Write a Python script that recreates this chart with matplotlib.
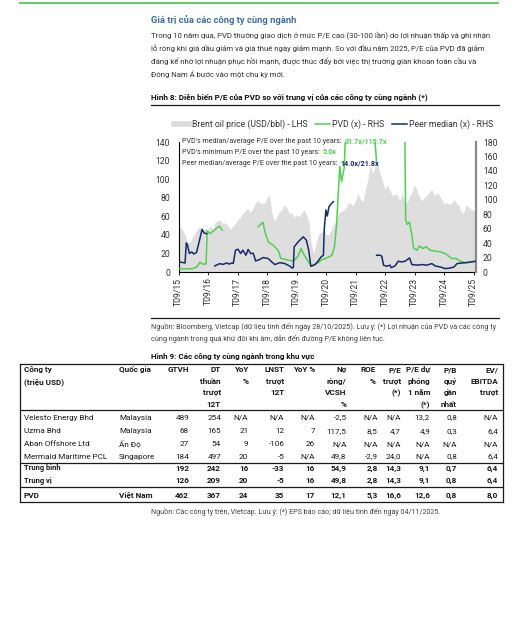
import matplotlib
matplotlib.use('Agg')
import matplotlib.pyplot as plt
from matplotlib.lines import Line2D
from matplotlib import font_manager
import numpy as np
import pandas as pd

# Brent monthly (USD/bbl), Sep 2015 -> Oct 2025
brent_vals = [48, 48, 44, 37,
              31, 33, 39, 43, 48, 48, 45, 47, 46, 50, 46, 54,
              55, 56, 52, 53, 50, 46, 49, 52, 56, 58, 63, 65,
              69, 65, 67, 73, 77, 75, 74, 74, 80, 83, 63, 55,
              60, 65, 67, 72, 70, 63, 64, 59, 62, 60, 63, 67,
              62, 54, 30, 20, 32, 41, 43, 45, 41, 40, 45, 51,
              55, 63, 65, 66, 69, 74, 74, 71, 77, 85, 78, 76,
              89, 99, 115, 106, 114, 117, 106, 98, 89, 94, 88, 82,
              84, 83, 77, 84, 75, 75, 82, 86, 94, 88, 81, 77,
              80, 83, 86, 89, 82, 85, 83, 78, 73, 75, 73, 74,
              78, 74, 72, 64, 64, 72, 70, 67, 67, 65]

# PVD P/E (x), None = negative earnings gap
pvd_dates = ['2015-09-30', '2015-12-15', '2016-03-10', '2016-04-15', '2016-05-10', '2016-05-30',
             '2016-06-20', '2016-07-25', '2016-09-05', '2016-09-20', '2016-10-20', '2016-11-25',
             '2017-01-05', '2017-02-15', '2017-03-25', '2017-04-10',
             '2018-06-10', '2018-08-10', '2018-09-05', '2018-10-15', '2018-12-15', '2019-02-15',
             '2019-03-20', '2019-05-30', '2019-08-01', '2019-09-10', '2019-10-20', '2019-11-25',
             '2020-01-01', '2020-02-25', '2020-04-01', '2020-05-15', '2020-06-28', '2020-08-05',
             '2020-09-28', '2020-12-10', '2021-01-12', '2021-02-08', '2021-02-28', '2021-03-18',
             '2021-04-10', '2021-05-12', '2021-05-30', '2021-08-30', '2021-12-30', '2022-03-30',
             '2022-05-20', '2022-06-18', '2022-07-01',
             '2023-05-28', '2023-06-12', '2023-06-30', '2023-07-30', '2023-08-28', '2023-09-18',
             '2023-10-30', '2023-11-30', '2024-01-12', '2024-02-20', '2024-04-12', '2024-06-12',
             '2024-08-12', '2024-10-15', '2024-11-25', '2025-01-05', '2025-02-28', '2025-04-18',
             '2025-06-18', '2025-08-20', '2025-10-28']
pvd_vals = [4.7, 4.3, 4.5, 5.5, 7, 9.3,
            13.5, 11, 11, 57, 53, 56,
            60, 63.5, 58, None,
            62.6, 68.7, 55, 41.7, 37, 30,
            19, 17, 15.5, 17, 22, 32.5,
            24, 14, 8, 11, 13, 17,
            19, 23, 35, 67, 109, 146,
            125, 144, 195, 260, 300, 260,
            195, 150, None,
            260, 72, 66, 69, 51, 33,
            30, 36, 32.5, 35, 30, 29,
            28, 25.6, 22, 18.6, 18.6, 15,
            13, 14, 15]

# Peer median P/E (x)
peer_dates = ['2015-09-30', '2015-11-05', '2015-12-20', '2016-01-05', '2016-01-18', '2016-02-12',
              '2016-03-12', '2016-04-05', '2016-05-10', '2016-06-12', '2016-07-18', '2016-08-12',
              '2016-09-12', '2016-10-01',
              '2016-12-22', '2017-02-22', '2017-04-02', '2017-05-18', '2017-06-18', '2017-07-18',
              '2017-08-08', '2017-09-05', '2017-10-05', '2017-11-08', '2017-12-05', '2018-01-12',
              '2018-02-08', '2018-03-12', '2018-04-12', '2018-05-12', '2018-06-28', '2018-08-12',
              '2018-10-15', '2018-11-28', '2019-01-05', '2019-03-08', '2019-05-10', '2019-07-12',
              '2019-08-02', '2019-08-22', '2019-09-01', '2019-10-20', '2019-12-22', '2020-01-30',
              '2020-02-28', '2020-03-25', '2020-05-15', '2020-06-25', '2020-07-30', '2020-08-28',
              '2020-09-08', '2020-09-28', '2020-10-15', '2020-11-05', '2020-12-08', '2020-12-30',
              '2021-01-15',
              '2022-06-18', '2022-07-30', '2022-08-20', '2022-09-12', '2022-10-20', '2022-11-30',
              '2022-12-15', '2023-02-01', '2023-03-12', '2023-04-25', '2023-06-05', '2023-07-30',
              '2023-08-28', '2023-10-30', '2023-12-30', '2024-02-28', '2024-05-01', '2024-06-12',
              '2024-08-12', '2024-10-15', '2024-12-15', '2025-02-01', '2025-03-08', '2025-05-08',
              '2025-07-10', '2025-10-28']
peer_vals = [13.9, 13.5, 12.5, 40.3, 38, 25.6,
             27.8, 25, 27, 42, 59, 54,
             53, None,
             8.4, 11.6, 10.5, 12.5, 11, 12.5,
             12, 30.2, 31.6, 25.6, 30.2, 23.2,
             31.2, 25.6, 26, 15.3, 17.2, 20,
             18.6, 13.9, 10.3, 13, 11.6, 8,
             5.6, 6, 34.8, 41.7, 48.7, 44,
             30.2, 7.9, 10.2, 15.3, 20.9, 23.2,
             60.4, 85.8, 77.5, 90.4, 95.1, 97.4,
             None,
             23.2, 23.2, 22, 9.3, 8, 9.5,
             6, 8.4, 14.9, 14, 14.9, 19.5,
             10.3, 9.5, 10.3, 9.5, 11.6, 8.4,
             7, 4.7, 5.5, 7, 11.6, 12.5,
             13, 14.9]

tick_years = list(range(2015, 2026))
tick_labels = ['T09/%02d' % (y % 100) for y in tick_years]

# Peer table
companies = ['Velesto Energy Bhd', 'Uzma Bhd', 'Aban Offshore Ltd', 'Mermaid Maritime PCL',
             'Trung bình', 'Trung vị', 'PVD']
countries = ['Malaysia', 'Malaysia', 'Ấn Độ', 'Singapore', '', '', 'Việt Nam']
mcap = [489, 68, 27, 184, 192, 126, 462]
revenue = [254, 165, 54, 497, 242, 209, 367]
rev_yoy = [None, 21, 9, 20, 16, 20, 24]
npat = [None, 12, -106, -5, -33, -5, 35]
npat_yoy = [None, 7, 26, None, 16, 16, 17]
net_debt = [-2.5, 117.5, None, 49.8, 54.9, 49.8, 12.1]
roe = [None, 8.5, None, -2.9, 2.8, 2.8, 5.3]
pe_ttm = [None, 4.7, None, 24.0, 14.3, 14.3, 16.6]
pe_fwd = [13.2, 4.9, None, None, 9.1, 9.1, 12.6]
pb = [0.8, 0.3, None, 0.8, 0.7, 0.8, 0.8]
ev_ebitda = [None, 6.4, None, 6.4, 6.4, 6.4, 8.0]

headers = [['Công ty', '(triệu USD)'], ['Quốc gia'], ['GTVH'], ['DT', 'thuần', 'trượt', '12T'],
           ['YoY', '%'], ['LNST', 'trượt', '12T'], ['YoY %'], ['Nợ', 'ròng/', 'VCSH', '%'],
           ['ROE', '%'], ['P/E', 'trượt', '(*)'], ['P/E dự', 'phóng', '1 năm', '(*)'],
           ['P/B', 'quý', 'gần', 'nhất'], ['EV/', 'EBITDA', 'trượt']]

GREEN = '#4fd14f'
NAVY = '#172a6b'
TXT = '#333333'

names = {f.name for f in font_manager.fontManager.ttflist}
base = 'Liberation Sans Narrow' if 'Liberation Sans Narrow' in names else 'Roboto'
plt.rcParams['font.family'] = [base, 'Roboto', 'DejaVu Sans']

W, H = 527, 633
fig = plt.figure(figsize=(W / 100, H / 100), dpi=100)
fig.patch.set_facecolor('white')
renderer = fig.canvas.get_renderer()


def put(x, y, s, size, width=None, **kw):
    # y is the visual middle of the capitals; text is placed on its baseline
    t = fig.text(x / W, 1 - y / H, s, fontsize=size, va='baseline', **kw)
    if width:
        w = t.get_window_extent(renderer).width
        size = size * width / w
        t.set_fontsize(size)
    t.set_y(1 - (y + 0.36 * size * 100 / 72) / H)
    return t


def hline(x0, x1, y, color='#1a1a1a', lw=0.9):
    fig.add_artist(Line2D([x0 / W, x1 / W], [1 - y / H, 1 - y / H], color=color, lw=lw,
                          transform=fig.transFigure))


def vline(x, y0, y1, color='#1a1a1a', lw=0.9):
    fig.add_artist(Line2D([x / W, x / W], [1 - y0 / H, 1 - y1 / H], color=color, lw=lw,
                          transform=fig.transFigure))


# page header + paragraph
hline(20, 498, 2.5, color='#5ccf5c', lw=1.4)
put(151, 20, 'Giá trị của các công ty cùng ngành', 7, width=146, color='#3c6ea6', fontweight='bold')
para = ['Trong 10 năm qua, PVD thường giao dịch ở mức P/E cao (30-100 lần) do lợi nhuận thấp và ghi nhận',
        'lỗ ròng khi giá dầu giảm và giá thuê ngày giảm mạnh. So với đầu năm 2025, P/E của PVD đã giảm',
        'đáng kể nhờ lợi nhuận phục hồi mạnh, được thúc đẩy bởi việc thị trường giàn khoan toàn cầu và',
        'Đông Nam Á bước vào một chu kỳ mới.']
t0 = put(151, 34.5, para[0], 6, width=347, color=TXT)
fs_para = t0.get_fontsize()
for i, line in enumerate(para[1:]):
    put(151, 34.5 + 13.3 * (i + 1), line, fs_para, color=TXT)

put(151, 96.7, 'Hình 8: Diễn biến P/E của PVD so với trung vị của các công ty cùng ngành (*)', 6,
    width=281, color='#111111', fontweight='bold')
hline(151, 499, 105.3, lw=0.9)

# chart
ax = fig.add_axes([178.5 / W, 1 - 272 / H, (476 - 178.5) / W, 130 / H])
brent_dates = pd.period_range('2015-09', periods=len(brent_vals), freq='M').to_timestamp(how='end').normalize()
ax.fill_between(brent_dates, brent_vals, color='#dedede', lw=0, zorder=1)
ax.set_ylim(0, 140)
ax.set_yticks(range(0, 141, 20))
ax.set_xlim(pd.Timestamp('2015-09-30'), pd.Timestamp('2025-10-30'))
ax.set_xticks(pd.to_datetime(['%d-09-30' % y for y in tick_years]))
ax.set_xticklabels(tick_labels, rotation=90, fontsize=6.2, color=TXT, family=['Roboto', 'DejaVu Sans'])
ax.tick_params(axis='x', length=2.5, width=0.7, pad=1.5, color='#222222')
ax.tick_params(axis='y', length=0, pad=6, labelsize=6.2, labelcolor=TXT)
for lab in ax.get_yticklabels():
    lab.set_family(['Roboto', 'DejaVu Sans'])
for s in ['top', 'right']:
    ax.spines[s].set_visible(False)
ax.spines['left'].set_linewidth(0.8)
ax.spines['bottom'].set_linewidth(0.8)

ax2 = ax.twinx()
ax2.plot(pd.to_datetime(pvd_dates), np.array(pvd_vals, dtype=float), color=GREEN, lw=1.1, zorder=3)
ax2.plot(pd.to_datetime(peer_dates), np.array(peer_vals, dtype=float), color=NAVY, lw=1.1, zorder=4)
ax2.set_ylim(0, 180)
ax2.set_yticks(range(0, 181, 20))
ax2.tick_params(axis='y', length=0, pad=5, labelsize=6.2, labelcolor=TXT)
for lab in ax2.get_yticklabels():
    lab.set_family(['Roboto', 'DejaVu Sans'])
for s in ['top', 'left', 'bottom']:
    ax2.spines[s].set_visible(False)
ax2.spines['right'].set_color('#8a8a8a')
ax2.spines['right'].set_linewidth(1.6)

handles = [Line2D([], [], color='#dcdcdc', lw=4),
           Line2D([], [], color=GREEN, lw=1.1),
           Line2D([], [], color=NAVY, lw=1.1)]
fig.legend(handles, ['Brent oil price (USD/bbl) - LHS', 'PVD (x) - RHS', 'Peer median (x) - RHS'],
           loc='center', bbox_to_anchor=(334 / W, 1 - 124 / H), ncol=3, frameon=False,
           fontsize=6.2, handlelength=1.7, handletextpad=0.3, columnspacing=0.9,
           labelcolor=TXT)

notes = [("PVD's median/average P/E over the past 10 years: ", '31.7x/115.7x', GREEN, 160),
         ("PVD's minimum P/E over the past 10 years: ", '5.0x', GREEN, None),
         ('Peer median/average P/E over the past 10 years: ', '14.0x/21.8x', NAVY, None)]
fs_note = None
for i, (lead, val, col, wd) in enumerate(notes):
    yc = 140.5 + 11.2 * i
    t = put(182, yc, lead, fs_note or 5.6, width=wd, color=TXT)
    fs_note = t.get_fontsize()
    bb = t.get_window_extent(renderer)
    put((bb.x1 + 1.5), yc, val, fs_note, color=col, fontweight='bold')

# source under chart
hline(151, 499, 318.3, lw=0.9)
s1 = put(151, 326.7, 'Nguồn: Bloomberg, Vietcap (dữ liệu tính đến ngày 28/10/2025). Lưu ý: (*) Lợi nhuận của PVD và các công ty',
         5.2, width=347, color='#444444')
put(151, 338.3, 'cùng ngành trong quá khứ đôi khi âm, dẫn đến đường P/E không liên tục.',
    s1.get_fontsize(), color='#444444')

put(151, 355.7, 'Hình 9: Các công ty cùng ngành trong khu vực', 6, width=166,
    color='#111111', fontweight='bold')

# table
hline(20, 502.7, 364.3)
hline(20, 502.7, 409.5)
hline(20, 502.7, 462.7)
hline(20, 502.7, 487.3)
hline(20, 502.7, 502.3)
vline(20, 364.3, 502.3)
vline(502.7, 364.3, 502.3)

probe = put(24, 455.7, companies[3], 5.8, width=82, color='#1a1a1a')
fs_tab = probe.get_fontsize()
probe.remove()

col_x = [24, 119, 189, 221, 248.3, 284.3, 315, 346.5, 375.5, 401, 430, 457, 498.3]
head_y = [369.5, 381, 392.5, 404]
for j, lines in enumerate(headers):
    for k, line in enumerate(lines):
        put(col_x[j], head_y[k], line, fs_tab, color='#1a1a1a', fontweight='bold',
            ha='left' if j < 2 else 'right')


def fmt(v, dec):
    if v is None:
        return 'N/A'
    return ('%.*f' % (dec, v)).replace('.', ',')


num_cols = [(mcap, 0), (revenue, 0), (rev_yoy, 0), (npat, 0), (npat_yoy, 0), (net_debt, 1),
            (roe, 1), (pe_ttm, 1), (pe_fwd, 1), (pb, 1), (ev_ebitda, 1)]
row_y = [416.7, 430, 443.3, 455.7, 467.7, 480, 495]
for i in range(len(companies)):
    bold = i >= 4
    wt = 'bold' if bold else 'normal'
    put(col_x[0], row_y[i], companies[i], fs_tab * (0.92 if i in (4, 5) else 1), color='#1a1a1a',
        fontweight=wt)
    put(col_x[1], row_y[i], countries[i], fs_tab, color='#1a1a1a', fontweight=wt)
    for j, (vals, dec) in enumerate(num_cols):
        xr = col_x[j + 2] + (2.2 if j == 6 else 0)
        put(xr, row_y[i], fmt(vals[i], dec), fs_tab, color='#1a1a1a', fontweight=wt,
            ha='right')

put(151, 511, 'Nguồn: Các công ty trên, Vietcap. Lưu ý: (*) EPS báo cáo; dữ liệu tính đến ngày 04/11/2025.',
    5.2, width=291, color='#444444')

fig.savefig('out.png', dpi=100)
